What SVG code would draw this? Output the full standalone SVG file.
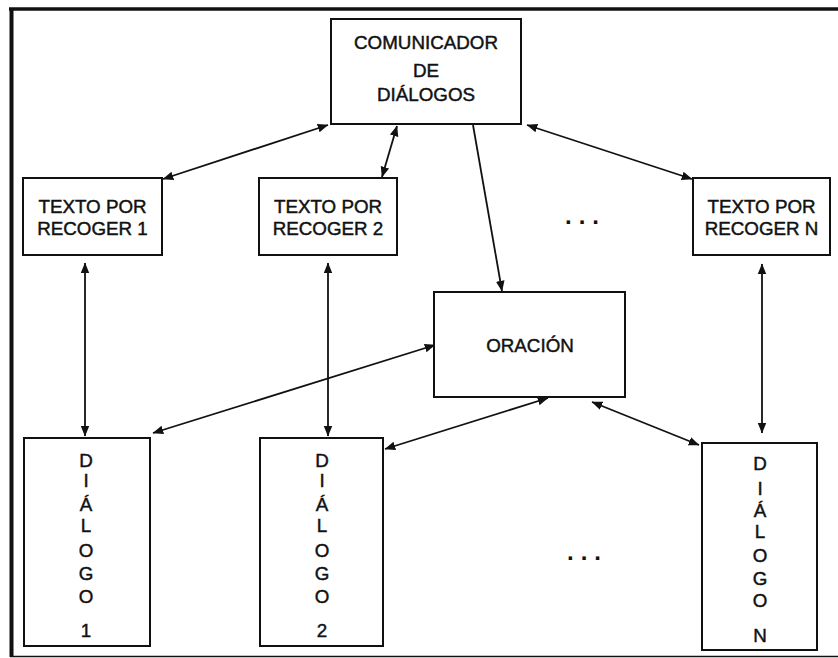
<svg xmlns="http://www.w3.org/2000/svg" width="838" height="658" viewBox="0 0 838 658">
  <defs>
    <style>
      .box { fill: #ffffff; stroke: #111111; stroke-width: 2; }
      .lbl { font-family: "Liberation Sans", Arial, sans-serif; font-size: 18.8px; fill: #111111; stroke: #111111; stroke-width: 0.45; text-anchor: middle; }
      .conn { stroke: #111111; stroke-width: 1.8; fill: none; }
      .dots { font-family: "Liberation Sans", Arial, sans-serif; font-size: 24px; font-weight: bold; fill: #111111; letter-spacing: 7px; }
    </style>
    <marker id="head" viewBox="0 0 10 10" refX="9.5" refY="5" markerWidth="6" markerHeight="6" orient="auto-start-reverse" markerUnits="strokeWidth">
      <path d="M0,1 L10,5 L0,9 Z" fill="#111111"/>
    </marker>
  </defs>

  <rect width="838" height="658" fill="#ffffff"/>

  <!-- outer frame: heavy top and left rules, thin bottom rule -->
  <g id="frame">
    <line x1="9" y1="9" x2="838" y2="9" stroke="#111111" stroke-width="3.5"/>
    <line x1="11.5" y1="8" x2="11.5" y2="657" stroke="#111111" stroke-width="4"/>
    <line x1="10" y1="656.5" x2="838" y2="656.5" stroke="#111111" stroke-width="1.6"/>
  </g>

  <g id="connectors">
    <line class="conn" x1="328" y1="125" x2="163" y2="179" marker-start="url(#head)" marker-end="url(#head)"/>
    <line class="conn" x1="397" y1="126" x2="382" y2="177" marker-start="url(#head)" marker-end="url(#head)"/>
    <line class="conn" x1="527" y1="125" x2="692" y2="179" marker-start="url(#head)" marker-end="url(#head)"/>
    <line class="conn" x1="473" y1="125" x2="502" y2="291" marker-end="url(#head)"/>
    <line class="conn" x1="85" y1="263" x2="85" y2="436" marker-start="url(#head)" marker-end="url(#head)"/>
    <line class="conn" x1="328" y1="263" x2="328" y2="436" marker-start="url(#head)" marker-end="url(#head)"/>
    <line class="conn" x1="762" y1="264" x2="762" y2="433" marker-start="url(#head)" marker-end="url(#head)"/>
    <line class="conn" x1="435" y1="345" x2="153" y2="433" marker-start="url(#head)" marker-end="url(#head)"/>
    <line class="conn" x1="548" y1="398" x2="385" y2="449" marker-start="url(#head)" marker-end="url(#head)"/>
    <line class="conn" x1="592" y1="402" x2="699" y2="445" marker-start="url(#head)" marker-end="url(#head)"/>
  </g>

  <g id="comunicador">
    <rect class="box" x="331" y="19" width="190" height="105"/>
    <text class="lbl" x="426" y="49">COMUNICADOR</text>
    <text class="lbl" x="426" y="77">DE</text>
    <text class="lbl" x="426" y="101">DIÁLOGOS</text>
  </g>

  <g id="texto1">
    <rect class="box" x="23" y="178" width="139" height="77"/>
    <text class="lbl" x="92.5" y="213">TEXTO POR</text>
    <text class="lbl" x="92.5" y="235">RECOGER 1</text>
  </g>

  <g id="texto2">
    <rect class="box" x="259" y="178" width="138" height="77"/>
    <text class="lbl" x="328" y="213">TEXTO POR</text>
    <text class="lbl" x="328" y="235">RECOGER 2</text>
  </g>

  <g id="textoN">
    <rect class="box" x="693" y="178" width="137" height="77"/>
    <text class="lbl" x="761.5" y="213">TEXTO POR</text>
    <text class="lbl" x="761.5" y="235">RECOGER N</text>
  </g>

  <g id="oracion">
    <rect class="box" x="434" y="292" width="191" height="105"/>
    <text class="lbl" x="530" y="352">ORACIÓN</text>
  </g>

  <g id="dialogo1">
    <rect class="box" x="24" y="438" width="126" height="208"/>
    <text class="lbl" x="86" y="467">D</text>
    <text class="lbl" x="86" y="487">I</text>
    <text class="lbl" x="86" y="511">Á</text>
    <text class="lbl" x="86" y="532">L</text>
    <text class="lbl" x="86" y="557">O</text>
    <text class="lbl" x="86" y="580">G</text>
    <text class="lbl" x="86" y="603">O</text>
    <text class="lbl" x="86" y="637">1</text>
  </g>

  <g id="dialogo2">
    <rect class="box" x="260" y="438" width="123" height="208"/>
    <text class="lbl" x="322" y="467">D</text>
    <text class="lbl" x="322" y="487">I</text>
    <text class="lbl" x="322" y="511">Á</text>
    <text class="lbl" x="322" y="532">L</text>
    <text class="lbl" x="322" y="557">O</text>
    <text class="lbl" x="322" y="580">G</text>
    <text class="lbl" x="322" y="603">O</text>
    <text class="lbl" x="322" y="637">2</text>
  </g>

  <g id="dialogoN">
    <rect class="box" x="702" y="443" width="115" height="207"/>
    <text class="lbl" x="760" y="470">D</text>
    <text class="lbl" x="760" y="495">I</text>
    <text class="lbl" x="760" y="517">Á</text>
    <text class="lbl" x="760" y="538">L</text>
    <text class="lbl" x="760" y="562">O</text>
    <text class="lbl" x="760" y="585">G</text>
    <text class="lbl" x="760" y="607">O</text>
    <text class="lbl" x="760" y="642">N</text>
  </g>

  <g id="ellipsis-top">
    <text class="dots" x="565" y="224">...</text>
  </g>
  <g id="ellipsis-bottom">
    <text class="dots" x="567" y="560">...</text>
  </g>
</svg>
